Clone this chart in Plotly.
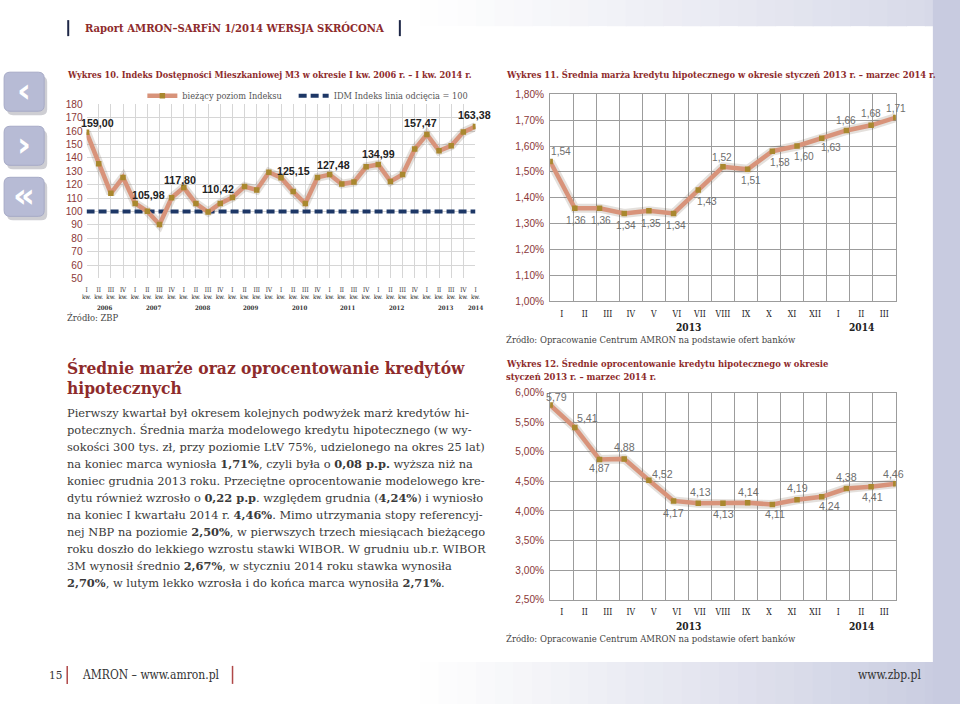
import plotly.graph_objects as go

W, H = 960, 704
# the page is shown with a small frame; place things in reference pixel coordinates
SX, SY, OX, OY = 0.9877, 0.9832, 5.9, 5.9


def X(px):
    return ((px - OX) / SX) / W


def Y(py):
    return 1 - ((py - OY) / SY) / H


def F(s):
    return s / 0.985


# ---------------- data ----------------
quarters = ["I", "II", "III", "IV"] * 8 + ["I"]
years1 = ["2006", "2007", "2008", "2009", "2010", "2011", "2012", "2013", "2014"]
idm = [159.00, 135.6, 113.5, 125.4, 105.98, 100.1, 90.2, 110.2, 117.80, 105.9,
       99.5, 106.0, 110.42, 118.6, 116.0, 129.2, 125.15, 114.8, 105.9, 125.4,
       127.48, 120.4, 121.9, 133.3, 134.99, 122.4, 127.5, 146.5, 157.47, 145.2,
       149.0, 159.2, 163.38]
idm_cutoff = 100
idm_labeled = [0, 4, 8, 12, 16, 20, 24, 28, 32]
idm_ticks = list(range(50, 181, 10))

months = ["I", "II", "III", "IV", "V", "VI", "VII", "VIII", "IX", "X", "XI", "XII", "I", "II", "III"]
years2 = ["2013", "2014"]
years2_span = [(0, 12), (12, 15)]
marza = [1.54, 1.36, 1.36, 1.34, 1.35, 1.34, 1.43, 1.52, 1.51, 1.58, 1.60, 1.63, 1.66, 1.68, 1.71]
oproc = [5.79, 5.41, 4.87, 4.88, 4.52, 4.17, 4.13, 4.13, 4.14, 4.11, 4.19, 4.24, 4.38, 4.41, 4.46]

# label offsets (px) – styling only
idm_off = [(11, 9), (13, 8.5), (-4, 8), (-14, 8), (12, 7), (3.5, 10), (0, 10.5), (-6, 11.5), (-1, 11)]
marza_off = [(11, 10), (1, -12.5), (1, -12.5), (2, -12.5), (2, -12.5), (2, -12.5), (9, -11.5),
             (-1, 9.5), (3, -11.5), (8, -11.5), (7, -10), (9, -9), (0, 10), (0, 11.5), (0, 9.5)]
oproc_off = [(6, 8), (13, 10), (0, -9), (0, 12), (14, 6), (0, -12), (2, 11), (1, -11), (1, 10.5),
             (3, -9.5), (0, 12), (8, -9.5), (0, 11), (1, -10.5), (-2, 10)]

DARK_RED = "#8e2b2b"
TICK_RED = "#8b3838"
LINE_C = "#d8937a"
SHADOW_C = "rgba(90,60,40,0.16)"
MARK_C = "#a9882f"
LAV = (200, 203, 224)
SERIF_C = "DejaVu Serif Condensed, DejaVu Serif"
SERIF = "DejaVu Serif"
SANS = "Liberation Sans, Arial"


def fmt(v, nd=2):
    return f"{v:.{nd}f}".replace(".", ",")


fig = go.Figure()

# ---------------- chart 1 ----------------
xi1 = list(range(len(idm)))
fig.add_trace(go.Scatter(x=xi1, y=idm, mode="lines", line=dict(color=SHADOW_C, width=9),
                         xaxis="x", yaxis="y", showlegend=False, hoverinfo="skip"))
fig.add_trace(go.Scatter(x=xi1, y=[idm_cutoff] * len(idm), mode="lines",
                         name="IDM Indeks linia odcięcia = 100", legend="legend2",
                         line=dict(color="#1d3766", width=4, dash="8px,4px"),
                         xaxis="x", yaxis="y", hoverinfo="skip"))
fig.add_trace(go.Scatter(x=xi1, y=idm, mode="lines+markers", name="bieżący poziom Indeksu",
                         legend="legend", line=dict(color=LINE_C, width=4.5),
                         marker=dict(symbol="square", size=5.5, color=MARK_C),
                         xaxis="x", yaxis="y", hoverinfo="skip"))

# ---------------- chart 2 ----------------
xi2 = list(range(len(marza)))
fig.add_trace(go.Scatter(x=xi2, y=marza, mode="lines", line=dict(color=SHADOW_C, width=9),
                         xaxis="x2", yaxis="y2", showlegend=False, hoverinfo="skip"))
fig.add_trace(go.Scatter(x=xi2, y=marza, mode="lines+markers", line=dict(color=LINE_C, width=4.5),
                         marker=dict(symbol="square", size=5.5, color=MARK_C),
                         xaxis="x2", yaxis="y2", showlegend=False, hoverinfo="skip"))
fig.add_trace(go.Scatter(x=[i + 0.5 for i in range(len(months))], y=[None] * len(months),
                         mode="markers", xaxis="x3", yaxis="y2", showlegend=False, hoverinfo="skip"))

# ---------------- chart 3 ----------------
xi3 = list(range(len(oproc)))
fig.add_trace(go.Scatter(x=xi3, y=oproc, mode="lines", line=dict(color=SHADOW_C, width=9),
                         xaxis="x4", yaxis="y4", showlegend=False, hoverinfo="skip"))
fig.add_trace(go.Scatter(x=xi3, y=oproc, mode="lines+markers", line=dict(color=LINE_C, width=4.5),
                         marker=dict(symbol="square", size=5.5, color=MARK_C),
                         xaxis="x4", yaxis="y4", showlegend=False, hoverinfo="skip"))
fig.add_trace(go.Scatter(x=[i + 0.5 for i in range(len(months))], y=[None] * len(months),
                         mode="markers", xaxis="x5", yaxis="y4", showlegend=False, hoverinfo="skip"))

ann = []
shapes = []

# data labels
for k, i in enumerate(idm_labeled):
    dx, dy = idm_off[k]
    ann.append(dict(x=i, y=idm[i], xref="x", yref="y", text=f"<b>{fmt(idm[i])}</b>",
                    showarrow=False, xshift=dx, yshift=dy, xanchor="center", yanchor="middle",
                    font=dict(family=SANS, size=F(10.5), color="#222")))
for i, v in enumerate(marza):
    dx, dy = marza_off[i]
    ann.append(dict(x=i, y=v, xref="x2", yref="y2", text=fmt(v), showarrow=False,
                    xshift=dx, yshift=dy, xanchor="center", yanchor="middle",
                    font=dict(family=SANS, size=F(10), color="#6e6e6e")))
for i, v in enumerate(oproc):
    dx, dy = oproc_off[i]
    ann.append(dict(x=i, y=v, xref="x4", yref="y4", text=fmt(v), showarrow=False,
                    xshift=dx, yshift=dy, xanchor="center", yanchor="middle",
                    font=dict(family=SANS, size=F(10.5), color="#6e6e6e")))

# year labels chart 1
for g, yr in enumerate(years1):
    idx = [j for j in range(g * 4, min(g * 4 + 4, len(idm)))]
    ann.append(dict(x=sum(idx) / len(idx), y=Y(308), xref="x", yref="paper", text=f"<b>{yr}</b>",
                    showarrow=False, xanchor="center", yanchor="middle",
                    font=dict(family=SERIF_C, size=F(6), color="#333")))
# year labels charts 2/3
for (a, b), yr in zip(years2_span, years2):
    ann.append(dict(x=(a + b) / 2, y=Y(328), xref="x3", yref="paper", text=f"<b>{yr}</b>",
                    showarrow=False, xanchor="center", yanchor="middle",
                    font=dict(family=SERIF_C, size=F(10), color="#222")))
    ann.append(dict(x=(a + b) / 2, y=Y(626), xref="x5", yref="paper", text=f"<b>{yr}</b>",
                    showarrow=False, xanchor="center", yanchor="middle",
                    font=dict(family=SERIF_C, size=F(10), color="#222")))


def txt(x, y, s, size, color="#333", family=SERIF_C, xanchor="left"):
    ann.append(dict(x=X(x), y=Y(y), xref="paper", yref="paper", text=s, showarrow=False,
                    xanchor=xanchor, yanchor="middle", font=dict(family=family, size=F(size), color=color)))


# titles & sources
txt(84, 29, "<b>Raport AMRON–SARFiN 1/2014 WERSJA SKRÓCONA</b>", 11, DARK_RED)
txt(66, 75, "<b>Wykres 10. Indeks Dostępności Mieszkaniowej M3 w okresie I kw. 2006 r. – I kw. 2014 r.</b>", 9, DARK_RED)
txt(504, 75, "<b>Wykres 11. Średnia marża kredytu hipotecznego w okresie styczeń 2013 r. – marzec 2014 r.</b>", 9.2, DARK_RED)
txt(504, 364, "<b>Wykres 12. Średnie oprocentowanie kredytu hipotecznego w okresie</b>", 9.2, DARK_RED)
txt(504, 377, "<b>styczeń 2013 r. – marzec 2014 r.</b>", 9.2, DARK_RED)
txt(66, 318, "Źródło: ZBP", 9.2, "#444")
txt(504, 340, "Źródło: Opracowanie Centrum AMRON na podstawie ofert banków", 9.3, "#444")
txt(504, 639, "Źródło: Opracowanie Centrum AMRON na podstawie ofert banków", 9.3, "#444")

# article text
txt(66, 368, "<b>Średnie marże oraz oprocentowanie kredytów</b>", 17, DARK_RED)
txt(66, 388, "<b>hipotecznych</b>", 17, DARK_RED)
para = [
    "Pierwszy kwartał był okresem kolejnych podwyżek marż kredytów hi-",
    "potecznych. Średnia marża modelowego kredytu hipotecznego (w wy-",
    "sokości 300 tys. zł, przy poziomie LtV 75%, udzielonego na okres 25 lat)",
    "na koniec marca wyniosła <b>1,71%</b>, czyli była o <b>0,08 p.p.</b> wyższa niż na",
    "koniec grudnia 2013 roku. Przeciętne oprocentowanie modelowego kre-",
    "dytu również wzrosło o <b>0,22 p.p</b>. względem grudnia (<b>4,24%</b>) i wyniosło",
    "na koniec I kwartału 2014 r. <b>4,46%</b>. Mimo utrzymania stopy referencyj-",
    "nej NBP na poziomie <b>2,50%</b>, w pierwszych trzech miesiącach bieżącego",
    "roku doszło do lekkiego wzrostu stawki WIBOR. W grudniu ub.r. WIBOR",
    "3M wynosił średnio <b>2,67%</b>, w styczniu 2014 roku stawka wynosiła",
    "<b>2,70%</b>, w lutym lekko wzrosła i do końca marca wynosiła <b>2,71%</b>.",
]
for k, line in enumerate(para):
    txt(66, 413 + 17 * k, line, 11.25, "#3a3a3a", family=SERIF)

# footer
txt(48, 675, "15", 11.5, "#333")
txt(81, 675, "AMRON – www.amron.pl", 11.8, "#333")
txt(922, 675, "www.zbp.pl", 11.8, "#333", xanchor="right")


# ---------------- background shapes ----------------
def rect(x0, y0, x1, y1, color, layer="below"):
    shapes.append(dict(type="rect", xref="paper", yref="paper", x0=X(x0), x1=X(x1), y0=Y(y1), y1=Y(y0),
                       fillcolor=color, line=dict(width=0), layer=layer))


def mix(t):
    r = int(255 + (LAV[0] - 255) * t)
    g = int(255 + (LAV[1] - 255) * t)
    b = int(255 + (LAV[2] - 255) * t)
    return f"rgb({r},{g},{b})"


n = 30
for k in range(n):
    x0 = 420 + (980 - 420) * k / n
    x1 = 420 + (980 - 420) * (k + 1) / n
    t = min(1.0, ((k + 0.5) / n) ** 1.1 * 1.05)
    rect(x0, 662, x1 + 1, 720, mix(t))
    rect(x0, -20, x1 + 1, 27, mix(t * 0.75))
rect(932, -20, 980, 720, mix(1.0))

# header bars
for bx in (69, 400):
    shapes.append(dict(type="line", xref="paper", yref="paper", x0=X(bx), x1=X(bx), y0=Y(21), y1=Y(37),
                       line=dict(color="#1e2747", width=2)))
# footer bars
for bx in (68, 233):
    shapes.append(dict(type="line", xref="paper", yref="paper", x0=X(bx), x1=X(bx), y0=Y(666), y1=Y(684),
                       line=dict(color="#b04848", width=1.5)))


# nav buttons
def rounded(x0, y0, x1, y1, r, color, lc="rgba(0,0,0,0)"):
    rx, ry = r / W, r / H
    a, b, c, d = X(x0), Y(y1), X(x1), Y(y0)
    p = (f"M {a+rx},{b} L {c-rx},{b} Q {c},{b} {c},{b+ry} L {c},{d-ry} Q {c},{d} {c-rx},{d} "
         f"L {a+rx},{d} Q {a},{d} {a},{d-ry} L {a},{b+ry} Q {a},{b} {a+rx},{b} Z")
    shapes.append(dict(type="path", xref="paper", yref="paper", path=p, fillcolor=color,
                       line=dict(color=lc, width=1)))


for (y0, glyph) in [(73, "‹"), (127, "›"), (178, "«")]:
    rounded(8, y0 + 4, 48, y0 + 43, 6, "rgba(60,60,80,0.25)")
    rounded(5, y0, 45, y0 + 39, 6, "#b7bbd5", "#a6aac6")
    ann.append(dict(x=X(25), y=Y(y0 + 18), xref="paper", yref="paper", text=f"<b>{glyph}</b>",
                    showarrow=False, xanchor="center", yanchor="middle",
                    font=dict(family="DejaVu Sans", size=34, color="white")))

# ---------------- axes ----------------
grid1 = "#d6d6d6"
grid2 = "#9c9c9c"
layout_axes = dict(
    xaxis=dict(domain=[X(87.3), X(475.5)], range=[0, 32], anchor="y",
               tickmode="array", tickvals=xi1, ticktext=[f"{q}<br>kw." for q in quarters],
               tickfont=dict(family=SERIF_C, size=F(6), color="#222"), ticks="", ticklabelstandoff=6,
               showgrid=True, gridcolor=grid1, gridwidth=1, zeroline=False, showline=False),
    yaxis=dict(domain=[Y(279), Y(105)], range=[50, 180], anchor="x",
               tickmode="array", tickvals=idm_ticks, ticktext=[str(t) for t in idm_ticks],
               tickfont=dict(family=SANS, size=F(10), color=TICK_RED), ticks="", ticklabelstandoff=3,
               showgrid=True, gridcolor=grid1, gridwidth=1, zeroline=False, showline=False),
    xaxis2=dict(domain=[X(550), X(895)], range=[0, 14], anchor="y2", visible=False),
    xaxis3=dict(overlaying="x2", range=[0, 15], anchor="y2", side="bottom",
                tickmode="array", tickvals=[i + 0.5 for i in range(len(months))], ticktext=months,
                tickfont=dict(family=SERIF_C, size=F(8.5), color="#222"), ticks="", ticklabelstandoff=4,
                showgrid=False, zeroline=False, showline=True, linecolor=grid2, mirror=True,
                minor=dict(tickmode="array", tickvals=list(range(len(months) + 1)), showgrid=True,
                           gridcolor=grid2, gridwidth=1, ticks="")),
    yaxis2=dict(domain=[Y(302), Y(95)], range=[1.0, 1.8], anchor="x2", dtick=0.1, tick0=1.0,
                tickformat=".2f", ticksuffix="%", tickfont=dict(family=SANS, size=F(10), color=TICK_RED),
                ticks="", ticklabelstandoff=3, showgrid=True, gridcolor=grid2, gridwidth=1,
                zeroline=False, showline=True, linecolor=grid2, mirror=True),
    xaxis4=dict(domain=[X(550), X(895)], range=[0, 14], anchor="y4", visible=False),
    xaxis5=dict(overlaying="x4", range=[0, 15], anchor="y4", side="bottom",
                tickmode="array", tickvals=[i + 0.5 for i in range(len(months))], ticktext=months,
                tickfont=dict(family=SERIF_C, size=F(8.5), color="#222"), ticks="", ticklabelstandoff=4,
                showgrid=False, zeroline=False, showline=True, linecolor=grid2, mirror=True,
                minor=dict(tickmode="array", tickvals=list(range(len(months) + 1)), showgrid=True,
                           gridcolor=grid2, gridwidth=1, ticks="")),
    yaxis4=dict(domain=[Y(600), Y(393)], range=[2.5, 6.0], anchor="x4", dtick=0.5, tick0=2.5,
                tickformat=".2f", ticksuffix="%", tickfont=dict(family=SANS, size=F(10), color=TICK_RED),
                ticks="", ticklabelstandoff=3, showgrid=True, gridcolor=grid2, gridwidth=1,
                zeroline=False, showline=True, linecolor=grid2, mirror=True),
)

legend_common = dict(orientation="h", xanchor="left", yanchor="top",
                     font=dict(family=SERIF_C, size=F(9), color="#555"), bgcolor="rgba(0,0,0,0)",
                     itemwidth=30, tracegroupgap=0)

fig.update_layout(
    width=W, height=H, margin=dict(l=0, r=0, t=0, b=0),
    paper_bgcolor="white", plot_bgcolor="rgba(0,0,0,0)",
    separators=",.",
    showlegend=True,
    legend=dict(x=X(143), y=Y(82), **legend_common),
    legend2=dict(x=X(294), y=Y(82), **legend_common),
    annotations=ann, shapes=shapes,
    hovermode=False,
)
fig.update_layout(**layout_axes)

fig.write_html(
    "out.html",
    config={"displayModeBar": False, "staticPlot": True},
    post_script="document.documentElement.style.margin='0';document.body.style.margin='0';"
                "document.body.style.overflow='hidden';",
)
